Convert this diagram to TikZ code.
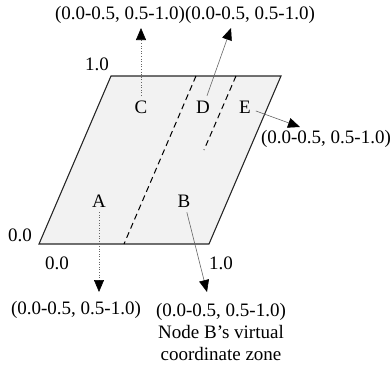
\documentclass[tikz,border=0pt]{standalone}
\usepackage{fontspec}
\setmainfont{Liberation Serif}
\usetikzlibrary{arrows.meta}

\begin{document}
\begin{tikzpicture}[
	x=1pt, y=-1pt,
	font=\fontsize{19}{22}\selectfont,
	zone/.style={draw=black!85, line width=1.1pt, fill=black!5},
	split/.style={dash pattern=on 6pt off 4pt, line width=1pt},
	lbl/.style={inner sep=1pt, outer sep=4pt},
	coord/.style={inner sep=1pt, align=center},
	ptr/.style={-{Triangle[width=10pt,length=12pt,color=black]}, draw=black!60, line width=0.6pt},
	>=stealth
]
	\useasboundingbox (0,0) rectangle (392,365);

	% the unit square, skewed
	\draw[zone] (111,76) -- (281,76) -- (209,244) -- (39,244) -- cycle;
	\draw[split] (196,76) -- (124,244);
	\draw[split] (236,76) -- (204,150);

	% axis values
	\node at (97,64) {1.0};
	\node at (20,235) {0.0};
	\node at (57,263) {0.0};
	\node at (221,263) {1.0};

	% nodes
	\node[lbl] (C) at (141,107) {C};
	\node[lbl] (D) at (203,107) {D};
	\node[lbl] (E) at (245,107) {E};
	\node[lbl] (A) at (99,201) {A};
	\node[lbl] (B) at (184,201) {B};

	% zones
	\node[coord] (zC) at (120,15) {(0.0-0.5, 0.5-1.0)};
	\node[coord] (zD) at (250,15) {(0.0-0.5, 0.5-1.0)};
	\node[coord] (zE) at (326,139) {(0.0-0.5, 0.5-1.0)};
	\node[coord] (zA) at (76,310) {(0.0-0.5, 0.5-1.0)};
	\node[coord, anchor=north] (zB) at (221,302) {(0.0-0.5, 0.5-1.0)\\Node B’s virtual\\coordinate zone};

	\coordinate (tC) at (141,28);
	\coordinate (tD) at (231,28);
	\coordinate (tE) at (300,127);
	\coordinate (tA) at (99,292);
	\coordinate (tB) at (207,292);

	\draw[ptr, dotted] (C) -- (tC);
	\draw[ptr] (D) -- (tD);
	\draw[ptr] (E) -- (tE);
	\draw[ptr, dotted] (A) -- (tA);
	\draw[ptr] (B) -- (tB);
\end{tikzpicture}
\end{document}
